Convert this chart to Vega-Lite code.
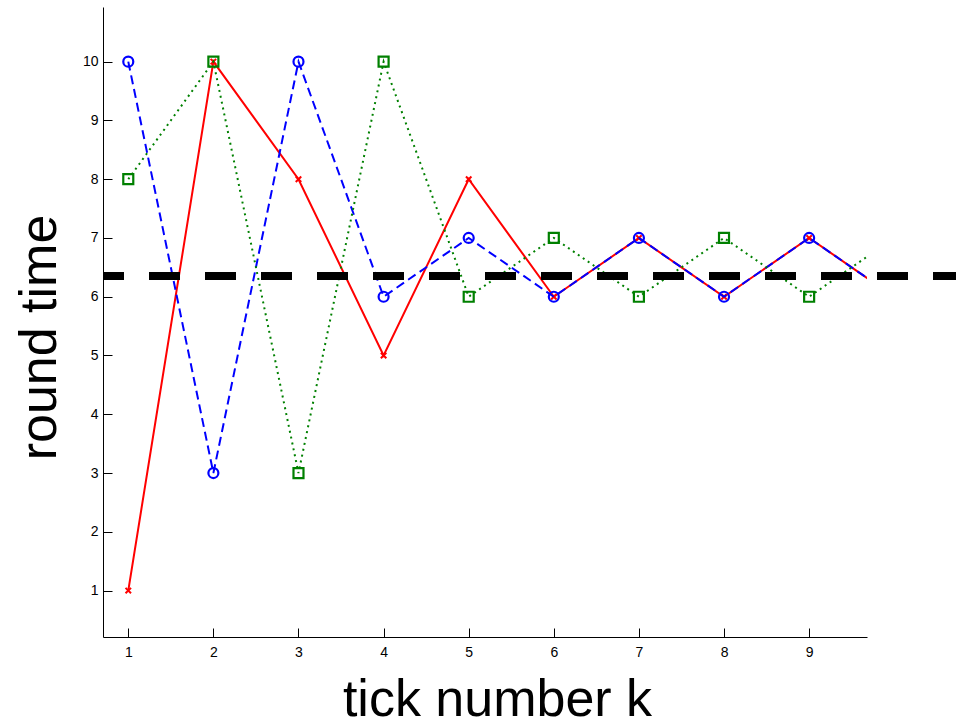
{
  "$schema": "https://vega.github.io/schema/vega-lite/v6.json",
  "width": 764,
  "height": 630,
  "autosize": {"type": "none"},
  "padding": {"left": 103, "top": 7, "right": 89, "bottom": 90},
  "background": "white",
  "config": {
    "view": {"stroke": null},
    "font": "Liberation Sans",
    "axis": {
      "grid": false,
      "domainColor": "#000",
      "domainWidth": 1,
      "tickColor": "#000",
      "tickWidth": 1,
      "tickSize": -9,
      "labelColor": "#000",
      "titleColor": "#000",
      "labelFont": "Liberation Sans",
      "titleFont": "Liberation Sans",
      "labelFontSize": 14,
      "titleFontSize": 52,
      "titleFontWeight": "normal"
    }
  },
  "data": {
    "values": [
      {"k": 1, "series": "red", "v": 1},
      {"k": 2, "series": "red", "v": 10},
      {"k": 3, "series": "red", "v": 8},
      {"k": 4, "series": "red", "v": 5},
      {"k": 5, "series": "red", "v": 8},
      {"k": 6, "series": "red", "v": 6},
      {"k": 7, "series": "red", "v": 7},
      {"k": 8, "series": "red", "v": 6},
      {"k": 9, "series": "red", "v": 7},
      {"k": 10, "series": "red", "v": 6},
      {"k": 1, "series": "blue", "v": 10},
      {"k": 2, "series": "blue", "v": 3},
      {"k": 3, "series": "blue", "v": 10},
      {"k": 4, "series": "blue", "v": 6},
      {"k": 5, "series": "blue", "v": 7},
      {"k": 6, "series": "blue", "v": 6},
      {"k": 7, "series": "blue", "v": 7},
      {"k": 8, "series": "blue", "v": 6},
      {"k": 9, "series": "blue", "v": 7},
      {"k": 10, "series": "blue", "v": 6},
      {"k": 1, "series": "green", "v": 8},
      {"k": 2, "series": "green", "v": 10},
      {"k": 3, "series": "green", "v": 3},
      {"k": 4, "series": "green", "v": 10},
      {"k": 5, "series": "green", "v": 6},
      {"k": 6, "series": "green", "v": 7},
      {"k": 7, "series": "green", "v": 6},
      {"k": 8, "series": "green", "v": 7},
      {"k": 9, "series": "green", "v": 6},
      {"k": 10, "series": "green", "v": 7}
    ]
  },
  "encoding": {
    "x": {
      "field": "k",
      "type": "quantitative",
      "scale": {"domain": [0.703, 9.68], "nice": false, "zero": false},
      "axis": {
        "values": [1, 2, 3, 4, 5, 6, 7, 8, 9],
        "title": "tick number k",
        "labelPadding": 17,
        "titleX": 394,
        "titleY": 78,
        "titleAlign": "center",
        "titleAnchor": null,
        "titleBaseline": "alphabetic"
      }
    },
    "y": {
      "field": "v",
      "type": "quantitative",
      "scale": {"domain": [0.21, 10.93], "nice": false, "zero": false},
      "axis": {
        "values": [1, 2, 3, 4, 5, 6, 7, 8, 9, 10],
        "title": "round time",
        "labelPadding": 14,
        "titleX": -48,
        "titleY": 330,
        "titleAngle": -90,
        "titleAlign": "center",
        "titleAnchor": null,
        "titleBaseline": "alphabetic"
      }
    }
  },
  "layer": [
    {
      "transform": [{"filter": "datum.series === 'red'"}],
      "mark": {"type": "line", "clip": true, "color": "#FF0000", "strokeWidth": 2}
    },
    {
      "transform": [{"filter": "datum.series === 'red'"}],
      "mark": {"type": "point", "clip": true, "shape": "M-1,-1L1,1M-1,1L1,-1", "filled": false, "color": "#FF0000", "strokeWidth": 2, "size": 30, "opacity": 1}
    },
    {
      "transform": [{"filter": "datum.series === 'blue'"}],
      "mark": {"type": "line", "clip": true, "color": "#0000FF", "strokeWidth": 2, "strokeDash": [9, 5]}
    },
    {
      "transform": [{"filter": "datum.series === 'blue'"}],
      "mark": {"type": "point", "clip": true, "shape": "circle", "filled": false, "color": "#0000FF", "strokeWidth": 2.2, "size": 100, "opacity": 1}
    },
    {
      "transform": [{"filter": "datum.series === 'green'"}],
      "mark": {"type": "line", "clip": true, "color": "#008000", "strokeWidth": 2, "strokeDash": [2, 4]}
    },
    {
      "transform": [{"filter": "datum.series === 'green'"}],
      "mark": {"type": "point", "clip": true, "shape": "square", "filled": false, "color": "#008000", "strokeWidth": 2.2, "size": 100, "opacity": 1}
    },
    {
      "mark": {"type": "rule", "clip": false, "color": "#000", "strokeWidth": 7, "strokeDash": [31, 25], "strokeDashOffset": 10},
      "encoding": {
        "x": {"datum": 0.703, "type": "quantitative"},
        "x2": {"datum": 10.75},
        "y": {"datum": 6.35, "type": "quantitative"}
      }
    }
  ]
}
